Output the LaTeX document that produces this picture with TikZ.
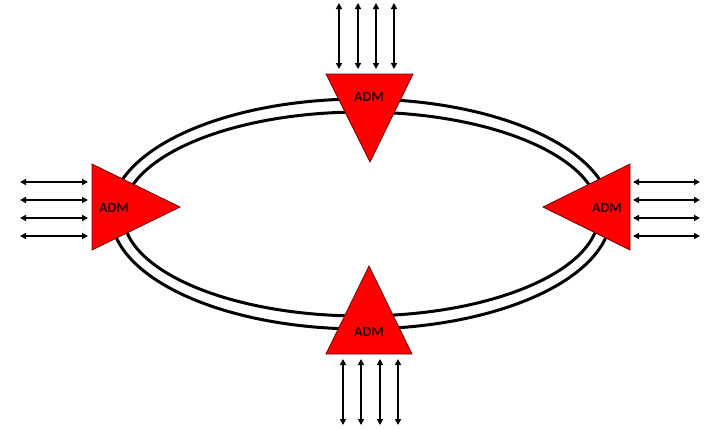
\documentclass[tikz,border=0pt]{standalone}
\usepackage{fontspec}
\setmainfont{Carlito}
\usetikzlibrary{arrows.meta}
\definecolor{admred}{RGB}{255,0,0}
\definecolor{admedge}{RGB}{110,0,0}
\tikzset{
  ring/.style={draw=black, line width=3pt},
  admtri/.style={fill=admred, draw=admedge, line width=0.8pt, line join=miter},
  admlabel/.style={font=\bfseries\fontsize{14}{14}\selectfont, inner sep=0pt, text=black!85!red},
  trib/.style={line width=1.9pt, {Triangle[length=6pt,width=6pt]}-{Triangle[length=6pt,width=6pt]}}
}
\begin{document}
\begin{tikzpicture}[x=1pt,y=-1pt]
\useasboundingbox (0,0) rectangle (713,429);
% ring
\draw[ring] (361,214) ellipse [x radius=250, y radius=115];
\draw[ring] (361,214) ellipse [x radius=238, y radius=102];
% triangles
\draw[admtri] (326,74) -- (413,74) -- (370,162) -- cycle;
\draw[admtri] (92,164) -- (92,250) -- (180,207) -- cycle;
\draw[admtri] (630,164) -- (630,250) -- (543,207) -- cycle;
\draw[admtri] (326,354) -- (412,354) -- (369,266) -- cycle;
% labels
\node[admlabel] (admT) at (369,97) {ADM};
\node[admlabel] (admL) at (114,208) {ADM};
\node[admlabel] (admR) at (607,208) {ADM};
\node[admlabel] (admB) at (369,332) {ADM};
% top arrows
\foreach \i/\x in {1/339,2/358,3/376,4/394}{
  \coordinate (t\i a) at (\x,3);
  \coordinate (t\i b) at (\x,69);
  \draw[trib] (t\i a) -- (t\i b);
}
% bottom arrows
\foreach \i/\x in {1/343,2/361,3/380,4/398}{
  \coordinate (b\i a) at (\x,359);
  \coordinate (b\i b) at (\x,425);
  \draw[trib] (b\i a) -- (b\i b);
}
% left arrows
\foreach \i/\y in {1/182,2/200,3/218,4/236}{
  \coordinate (l\i a) at (20,\y);
  \coordinate (l\i b) at (88,\y);
  \draw[trib] (l\i a) -- (l\i b);
}
% right arrows
\foreach \i/\y in {1/182,2/200,3/218,4/236}{
  \coordinate (r\i a) at (633,\y);
  \coordinate (r\i b) at (700,\y);
  \draw[trib] (r\i a) -- (r\i b);
}
\end{tikzpicture}
\end{document}
